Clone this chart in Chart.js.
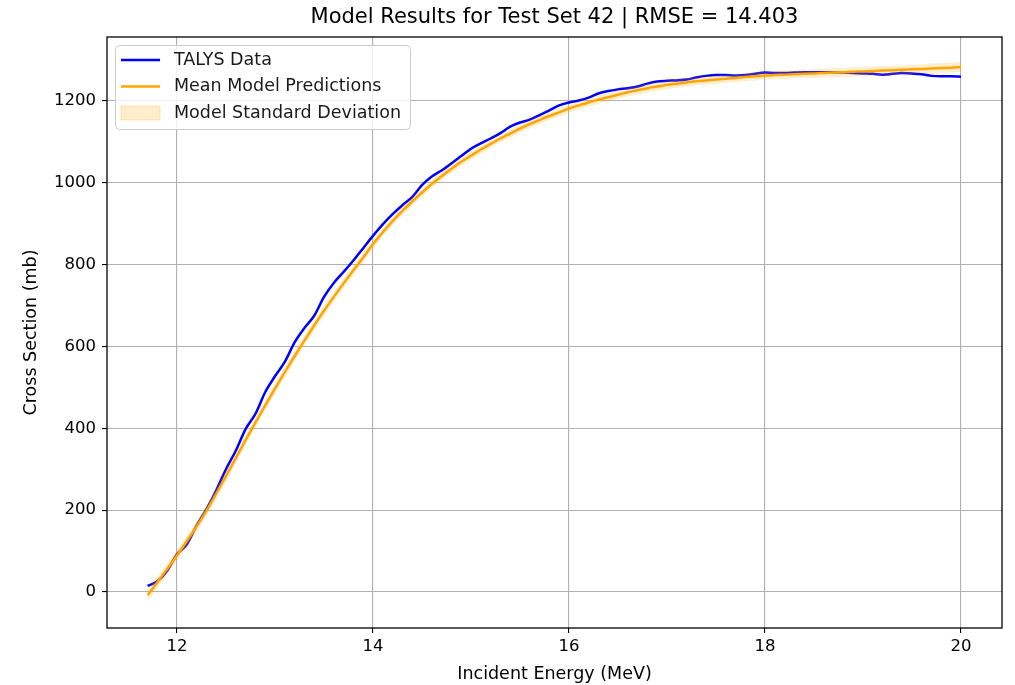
<!DOCTYPE html>
<html>
<head>
<meta charset="utf-8">
<script src="https://cdn.jsdelivr.net/npm/chart.js@4.4.1/dist/chart.umd.min.js"></script>
<style>
  html, body { margin: 0; padding: 0; background: #fff; }
  #wrap { width: 1015px; height: 685px; }
</style>
</head>
<body>
<div id="wrap"><canvas id="chart" width="1015" height="685"></canvas></div>
<script>
const chartTitle = 'Model Results for Test Set 42 | RMSE = 14.403';
const xTitle = 'Incident Energy (MeV)';
const yTitle = 'Cross Section (mb)';
const xTicks = [12, 14, 16, 18, 20];
const yTicks = [0, 200, 400, 600, 800, 1000, 1200];

const energies = [
    11.7, 11.8, 11.9, 12.0, 12.1, 12.2, 12.3, 12.4, 12.5, 12.6,
    12.7, 12.8, 12.9, 13.0, 13.1, 13.2, 13.3, 13.4, 13.5, 13.6,
    13.7, 13.8, 13.9, 14.0, 14.1, 14.2, 14.3, 14.4, 14.5, 14.6,
    14.7, 14.8, 14.9, 15.0, 15.1, 15.2, 15.3, 15.4, 15.5, 15.6,
    15.7, 15.8, 15.9, 16.0, 16.1, 16.2, 16.3, 16.4, 16.5, 16.6,
    16.7, 16.8, 16.9, 17.0, 17.1, 17.2, 17.3, 17.4, 17.5, 17.6,
    17.7, 17.8, 17.9, 18.0, 18.1, 18.2, 18.3, 18.4, 18.5, 18.6,
    18.7, 18.8, 18.9, 19.0, 19.1, 19.2, 19.3, 19.4, 19.5, 19.6,
    19.7, 19.8, 19.9, 20.0
];

const talys = [
    15, 26, 52, 92, 116, 162, 202, 248, 300, 345,
    398, 435, 488, 527, 562, 610, 645, 675, 721, 755,
    782, 810, 840, 870, 898, 923, 945, 965, 994, 1015,
    1030, 1047, 1065, 1083, 1096, 1108, 1121, 1137, 1147, 1154,
    1165, 1177, 1189, 1196, 1201, 1208, 1218, 1224, 1228, 1231,
    1235, 1242, 1247, 1249, 1250, 1252, 1257, 1261, 1263, 1263,
    1262, 1263, 1266, 1269, 1268, 1268, 1269, 1270, 1270, 1270,
    1270, 1269, 1268, 1267, 1266, 1264, 1266, 1268, 1267, 1265,
    1261, 1260, 1260, 1259
];

const meanPred = [
    -8, 24, 56, 89, 124, 160, 198, 240, 283, 327,
    371, 414, 456, 497, 537, 576, 614, 651, 687, 721,
    754, 786, 817, 850, 879, 906, 931, 954, 976, 997,
    1016, 1034, 1051, 1066, 1081, 1095, 1108, 1120, 1132, 1143,
    1153, 1163, 1172, 1181, 1189, 1196, 1203, 1209, 1215, 1221,
    1226, 1231, 1235, 1239, 1242, 1245, 1248, 1250, 1252, 1254,
    1256, 1258, 1260, 1262, 1263, 1264, 1265, 1266, 1267, 1268,
    1269, 1270, 1271, 1272, 1273, 1274, 1275, 1276, 1277, 1278,
    1279, 1280, 1281, 1283
];

const stdDev = [
    14, 14, 14, 13, 13, 13, 13, 13, 13, 12,
    12, 12, 12, 12, 12, 12, 12, 12, 12, 12,
    12, 12, 12, 12, 10, 10, 10, 10, 10, 10,
    10, 10, 10, 10, 10, 10, 10, 10, 10, 10,
    10, 10, 10, 10, 10, 10, 10, 10, 10, 10,
    10, 10, 10, 10, 10, 10, 10, 10, 10, 10,
    10, 10, 10, 10, 10, 10, 10, 10, 11, 11,
    11, 11, 11, 11, 11, 11, 11, 11, 11, 11,
    12, 12, 12, 12
];

const FONT = "'DejaVu Sans', sans-serif";

function pts(values) {
    return energies.map((e, i) => ({ x: e, y: values[i] }));
}

// frame, title and legend (matplotlib style)
const decorations = {
    id: 'decorations',
    afterDatasetsDraw(chart) {
        const { ctx, chartArea: a } = chart;
        ctx.save();
        ctx.strokeStyle = '#000';
        ctx.lineWidth = 1.3;
        ctx.strokeRect(a.left, a.top, a.right - a.left, a.bottom - a.top);
        ctx.restore();
    },
    afterDraw(chart) {
        const { ctx, chartArea: a } = chart;
        ctx.save();
        ctx.fillStyle = '#000';
        ctx.font = '21px ' + FONT;
        ctx.textAlign = 'center';
        ctx.textBaseline = 'middle';
        ctx.fillText(chartTitle, (a.left + a.right) / 2, 18);

        // legend
        const lx = 115.5, ly = 45.5, lw = 295, lh = 84;
        ctx.beginPath();
        ctx.roundRect(lx, ly, lw, lh, 4);
        ctx.fillStyle = 'rgba(255,255,255,0.8)';
        ctx.fill();
        ctx.strokeStyle = '#cccccc';
        ctx.lineWidth = 1;
        ctx.stroke();

        const ds = chart.data.datasets;
        const rows = [60, 86.5, 113];
        ctx.lineWidth = 2.5;
        ctx.strokeStyle = ds[3].borderColor;
        ctx.beginPath(); ctx.moveTo(121, rows[0]); ctx.lineTo(160, rows[0]); ctx.stroke();
        ctx.strokeStyle = ds[2].borderColor;
        ctx.beginPath(); ctx.moveTo(121, rows[1]); ctx.lineTo(160, rows[1]); ctx.stroke();
        ctx.fillStyle = 'rgba(255,165,0,0.2)';
        ctx.fillRect(121, 106, 39, 14);
        ctx.strokeStyle = 'rgba(255,165,0,0.25)';
        ctx.lineWidth = 1;
        ctx.strokeRect(121, 106, 39, 14);

        ctx.fillStyle = '#1a1a1a';
        ctx.font = '17.5px ' + FONT;
        ctx.textAlign = 'left';
        ctx.fillText(ds[3].label, 174, rows[0]);
        ctx.fillText(ds[2].label, 174, rows[1]);
        ctx.fillText(ds[0].label, 174, rows[2]);
        ctx.restore();
    }
};

const ctx = document.getElementById('chart').getContext('2d');
new Chart(ctx, {
    type: 'line',
    data: {
        datasets: [
            {
                label: 'Model Standard Deviation',
                data: pts(meanPred.map((m, i) => m + stdDev[i])),
                borderWidth: 0,
                borderColor: 'rgba(255,165,0,0)',
                backgroundColor: 'rgba(255,165,0,0.2)',
                pointRadius: 0,
                fill: '+1'
            },
            {
                label: 'lower',
                data: pts(meanPred.map((m, i) => m - stdDev[i])),
                borderWidth: 0,
                borderColor: 'rgba(255,165,0,0)',
                pointRadius: 0,
                fill: false
            },
            {
                label: 'Mean Model Predictions',
                data: pts(meanPred),
                borderColor: '#ffa500',
                borderWidth: 2.5,
                pointRadius: 0,
                cubicInterpolationMode: 'monotone',
                fill: false
            },
            {
                label: 'TALYS Data',
                data: pts(talys),
                borderColor: '#0000ff',
                borderWidth: 2.5,
                pointRadius: 0,
                cubicInterpolationMode: 'monotone',
                fill: false
            }
        ]
    },
    options: {
        responsive: false,
        animation: false,
        events: [],
        layout: { padding: { top: 37, right: 13, bottom: 0, left: 0 } },
        plugins: {
            legend: { display: false },
            title: { display: false },
            tooltip: { enabled: false }
        },
        scales: {
            x: {
                type: 'linear',
                min: 11.286,
                max: 20.418,
                afterFit(scale) { scale.height = 57; },
                afterBuildTicks(scale) { scale.ticks = xTicks.map(v => ({ value: v })); },
                grid: { color: '#b0b0b0', lineWidth: 1.1, tickColor: '#000', tickLength: 5, tickWidth: 1.1 },
                border: { display: false },
                ticks: { color: '#000', font: { family: FONT, size: 16.5 }, padding: 4, maxRotation: 0,
                         callback: v => String(v) },
                title: { display: true, text: xTitle, color: '#000', font: { family: FONT, size: 17.5 }, padding: { top: 0, bottom: 0 } }
            },
            y: {
                type: 'linear',
                min: -88,
                max: 1356,
                afterFit(scale) { scale.width = 107; },
                afterBuildTicks(scale) { scale.ticks = yTicks.map(v => ({ value: v })); },
                grid: { color: '#b0b0b0', lineWidth: 1.1, tickColor: '#000', tickLength: 5, tickWidth: 1.1 },
                border: { display: false },
                ticks: { color: '#000', font: { family: FONT, size: 16.5 }, padding: 6,
                         callback: v => String(v) },
                title: { display: true, text: yTitle, color: '#000', font: { family: FONT, size: 17.5 }, padding: { top: 21, bottom: 0 } }
            }
        }
    },
    plugins: [decorations]
});
</script>
</body>
</html>
